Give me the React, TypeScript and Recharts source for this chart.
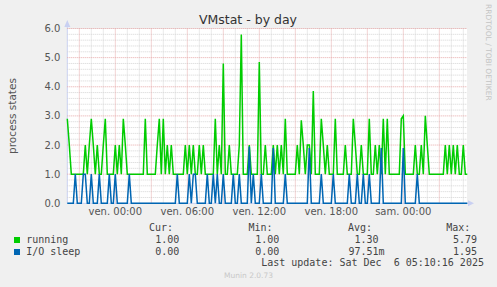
import React from 'react';
import { LineChart, Line, XAxis, YAxis, CartesianGrid } from 'recharts';

// samples every 10 minutes, starting Thu 20:00
const running = [
  2.9, 2, 1, 1, 1, 1, 1, 1, 1, 2,
  1, 2, 2.9, 2, 1, 2, 1, 1, 2, 2.9,
  1, 1, 1, 1, 2, 1, 2, 1, 2.9, 2,
  1, 1, 1, 1, 1, 1, 1, 1, 1, 2.9,
  1, 1, 1, 1, 1, 2, 2.9, 1, 2.9, 1,
  2, 1, 2, 1, 1, 1, 1, 1, 1, 2,
  1, 2, 1, 2, 1, 1, 2, 1, 2, 1,
  1, 1, 1, 1, 2.9, 1, 2, 1, 4.8, 1,
  1, 2, 1, 1, 1, 1, 2, 5.79, 1, 1,
  1, 2, 1, 1, 1, 1, 4.85, 1, 1, 2,
  1, 1, 1, 2, 1, 2, 1, 2, 1, 2.9,
  1, 1, 1, 1, 1, 2, 1, 2.85, 2, 1,
  2, 2, 1, 3.85, 1, 1, 1, 2.9, 2, 1,
  2, 1, 1, 1, 2.9, 1, 1, 1, 1, 2,
  1, 1, 1, 2.9, 2, 1, 1, 2, 1, 1,
  1, 2.9, 1, 1, 2, 1, 2, 1, 2.9, 1,
  2.9, 1, 1, 1, 1, 1, 1, 2.9, 3.0, 1,
  1, 1, 1, 1, 2, 1, 1, 2, 1, 3.0,
  2, 1, 1, 1, 1, 1, 1, 1, 1, 2,
  1, 2, 1, 2, 1, 2, 1, 1, 2, 1,
  1,
];

const ioSleep = [
  0, 0, 0, 0, 1, 0, 0, 0, 1, 1,
  0, 0, 1, 0, 0, 0, 1, 0, 0, 0,
  0, 1, 0, 0, 1, 0, 0, 0, 0, 0,
  0, 1, 0, 0, 0, 0, 0, 0, 0, 0,
  0, 0, 0, 0, 0, 0, 0, 0, 0, 0,
  0, 0, 0, 0, 0, 1, 0, 0, 0, 0,
  0, 1, 0, 1, 1, 0, 0, 0, 0, 0,
  1, 0, 0, 1, 0, 1, 0, 0, 1, 0,
  0, 0, 0, 1, 0, 0, 1, 0, 0, 0,
  0, 1.95, 0, 1, 0, 0, 0, 1, 0, 0,
  0, 0, 0, 1.9, 0, 0, 0, 0, 0, 1,
  0, 0, 0, 0, 0, 0, 0, 0, 0, 0,
  0, 1.9, 0, 0, 0, 0, 0, 1, 0, 0,
  0, 0, 0, 1, 0, 0, 0, 0, 0, 0,
  0, 1, 0, 0, 0, 1, 0, 0, 1, 0,
  0, 1, 0, 0, 0, 0, 0, 1.9, 0, 0,
  0, 0, 0, 0, 0, 0, 0, 0, 1.9, 0,
  0, 0, 0, 0, 0, 1, 0, 0, 0, 0,
  0, 0, 0, 0, 0, 0, 0, 0, 0, 0,
  0, 0, 0, 0, 0, 0, 0, 0, 0, 0,
  0,
];

const xTickPos = [24, 60, 96, 132, 168];
const xTickLabels = ['ven. 00:00', 'ven. 06:00', 'ven. 12:00', 'ven. 18:00', 'sam. 00:00'];
const yTicks = [0, 1, 2, 3, 4, 5, 6];

const seriesNames = ['running', 'I/O sleep'];
const seriesColors = ['#00CC00', '#0066B3'];
const curVals = ['1.00', '0.00'];
const minVals = ['1.00', '0.00'];
const avgVals = ['1.30', '97.51m'];
const maxVals = ['5.79', '1.95'];

const data = running.map((v, i) => ({ t: i, running: v, io: ioSleep[i] }));

// grid positions
const minorY: number[] = [];
for (let k = 1; k < 30; k++) if (k % 5 !== 0) minorY.push(+(k * 0.2).toFixed(1));
const majorY = [1, 2, 3, 4, 5, 6];
const minorX: number[] = [];
const majorX: number[] = [];
for (let i = 6; i <= 200; i += 6) {
  if ((i - 6) % 18 === 0) majorX.push(i);
  else minorX.push(i);
}

const W = 497;
const H = 287;
const PL = 67.3;
const PR = 467.3;
const PT = 28.5;
const PB = 203.3;

const mono = "'DejaVu Sans Mono', monospace";
const sans = "'DejaVu Sans', sans-serif";

const T = (props: { x: number; y: number; children: React.ReactNode; style?: React.CSSProperties }) => (
  <div
    style={{
      position: 'absolute',
      left: props.x,
      top: props.y - 6,
      lineHeight: '12px',
      fontFamily: mono,
      fontSize: 10,
      color: '#444',
      whiteSpace: 'pre',
      ...props.style,
    }}
  >
    {props.children}
  </div>
);

export default function App() {
  const rowY = [240, 251.5];
  return (
    <div
      style={{
        position: 'absolute',
        left: 0,
        top: 0,
        width: W,
        height: H,
        background: '#F0F0F0',
        overflow: 'hidden',
      }}
    >
      <div
        style={{
          position: 'absolute',
          left: PL,
          top: PT,
          width: PR - PL,
          height: PB - PT,
          background: '#FFFFFF',
        }}
      />
      <svg width={W} height={H} style={{ position: 'absolute', left: 0, top: 0 }}>
        <line x1={PL} y1={PB} x2={PL} y2={24} stroke="#c9d0f2" strokeWidth={1} />
        <line x1={PL} y1={PB} x2={469} y2={PB} stroke="#c9d0f2" strokeWidth={1} />
        <polygon points={`${PL - 3},27 ${PL + 3},27 ${PL},20`} fill="#c9d0f2" />
        <polygon points={`468,${PB - 3} 468,${PB + 3} 474,${PB}`} fill="#c9d0f2" />
      </svg>
      <div style={{ position: 'absolute', left: 0, top: 0 }}>
        <LineChart
          width={W}
          height={H}
          data={data}
          margin={{ top: PT, left: PL - 40, right: W - PR, bottom: H - PB - 20 }}
        >
          <CartesianGrid
            stroke="#d4d4d4"
            strokeDasharray="1 1"
            horizontalValues={minorY}
            verticalValues={minorX}
          />
          <CartesianGrid
            stroke="#e6a8a8"
            strokeDasharray="1 1"
            horizontalValues={majorY}
            verticalValues={majorX}
          />
          <XAxis
            dataKey="t"
            type="number"
            domain={[0, 200]}
            ticks={xTickPos}
            interval={0}
            tickFormatter={(v: number) => xTickLabels[xTickPos.indexOf(v)] ?? ''}
            axisLine={false}
            tickLine={false}
            tickSize={3}
            tickMargin={2}
            height={20}
            tick={{ fill: '#555', fontSize: 10, fontFamily: sans }}
          />
          <YAxis
            type="number"
            domain={[0, 6]}
            ticks={yTicks}
            interval={0}
            tickFormatter={(v: number) => v.toFixed(1)}
            axisLine={false}
            tickLine={false}
            tickSize={5}
            tickMargin={2}
            width={40}
            tick={{ fill: '#555', fontSize: 10, fontFamily: sans }}
          />
          <Line
            type="linear"
            dataKey="running"
            stroke={seriesColors[0]}
            strokeWidth={1.5}
            dot={false}
            isAnimationActive={false}
          />
          <Line
            type="linear"
            dataKey="io"
            stroke={seriesColors[1]}
            strokeWidth={1.5}
            dot={false}
            isAnimationActive={false}
          />
        </LineChart>
      </div>

      <div
        style={{
          position: 'absolute',
          left: 0,
          width: W - 1,
          top: 12,
          textAlign: 'center',
          fontFamily: sans,
          fontSize: 12.5,
          lineHeight: '15px',
          color: '#333',
        }}
      >
        VMstat - by day
      </div>
      <div
        style={{
          position: 'absolute',
          left: 11.5,
          top: 116,
          transform: 'translate(-50%, -50%) rotate(-90deg)',
          fontFamily: sans,
          fontSize: 10.5,
          lineHeight: '12px',
          color: '#555',
          whiteSpace: 'nowrap',
        }}
      >
        process states
      </div>
      <div
        style={{
          position: 'absolute',
          left: 484,
          top: 4,
          writingMode: 'vertical-rl',
          fontFamily: sans,
          fontSize: 7.5,
          lineHeight: '9px',
          color: '#c4c4c4',
          whiteSpace: 'nowrap',
        }}
      >
        RRDTOOL / TOBI OETIKER
      </div>

      <T x={149} y={227.7}>Cur:</T>
      <T x={248.5} y={227.7}>Min:</T>
      <T x={348} y={227.7}>Avg:</T>
      <T x={446.3} y={227.7}>Max:</T>

      {seriesNames.map((name, r) => (
        <React.Fragment key={name}>
          <div
            style={{
              position: 'absolute',
              left: 14,
              top: rowY[r] - 3,
              width: 6,
              height: 6,
              background: seriesColors[r],
            }}
          />
          <T x={26.2} y={rowY[r]}>{name}</T>
          <T x={155.3} y={rowY[r]}>{curVals[r]}</T>
          <T x={255.3} y={rowY[r]}>{minVals[r]}</T>
          <T x={384.5 - 6.02 * (avgVals[r].endsWith('m') ? 6 : 5)} y={rowY[r]}>{avgVals[r]}</T>
          <T x={453} y={rowY[r]}>{maxVals[r]}</T>
        </React.Fragment>
      ))}

      <T x={261.2} y={263.3}>Last update: Sat Dec  6 05:10:16 2025</T>
      <div
        style={{
          position: 'absolute',
          left: 0,
          width: W,
          top: 271,
          textAlign: 'center',
          fontFamily: sans,
          fontSize: 7.5,
          lineHeight: '10px',
          color: '#c8c8c8',
        }}
      >
        Munin 2.0.73
      </div>
    </div>
  );
}
